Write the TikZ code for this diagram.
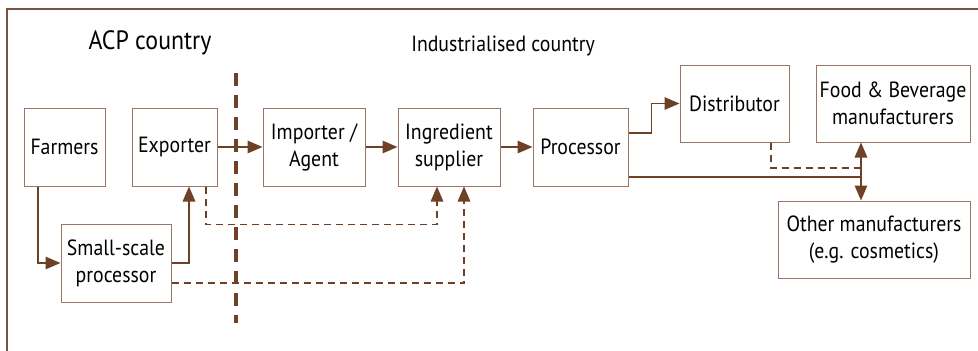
\documentclass[tikz,border=0pt]{standalone}
\usepackage{fontspec}
\setmainfont{PT Sans}[FakeStretch=0.9]
\usetikzlibrary{positioning}
\usetikzlibrary{arrows.meta}
\definecolor{chainBrown}{HTML}{6E4026}
\definecolor{boxBrown}{HTML}{9A7565}
\definecolor{frameBrown}{HTML}{7A5240}
\tikzset{
  font={\fontsize{22pt}{27pt}\selectfont}
}
\def\rowY{147}
\def\boxHeight{78}
\tikzstyle{stage}=[rectangle,draw=boxBrown,line width=1pt,minimum height=\boxHeight pt,inner sep=2pt,align=center,text=black]
\tikzstyle{flow}=[-{Triangle[length=15pt,width=12.5pt]},line width=1.5pt,draw=chainBrown]
\tikzstyle{backflow}=[flow,line width=1.2pt,dash pattern=on 7pt off 5pt]
\tikzstyle{plainflow}=[line width=1.5pt,draw=chainBrown]
\tikzstyle{border}=[line width=2pt,draw=frameBrown]
\tikzstyle{divider}=[line width=4pt,draw=chainBrown,dash pattern=on 13pt off 9pt]
\tikzstyle{region}=[font=\fontsize{26.5pt}{32pt}\selectfont]
\newcommand{\acpChain}{
    \node[stage,minimum width=81pt] (farmers) at (64.5,\rowY) {Farmers};
    \node[stage,minimum width=85pt] (exporter) at (174.5,\rowY) {Exporter};
    \node[stage,minimum width=110pt] (smallscale) at (116,263) {Small-scale\\processor};
    \node[region] (acp-title) at (150,43) {ACP country};
}
\newcommand{\importChain}{
    \node[stage,minimum width=102pt] (importer) at (314,\rowY) {Importer /\\Agent};
    \node[stage,minimum width=102pt] (ingredient) at (449,\rowY) {Ingredient\\supplier};
    \node[stage,minimum width=95pt] (processor) at (580.5,\rowY) {Processor};
    \node[stage,minimum width=109pt,minimum height=77pt] (distributor) at (734.5,103.5) {Distributor};
    \node[stage,minimum width=154pt,minimum height=77pt] (foodbev) at (893,103.5) {Food \& Beverage\\manufacturers};
    \node[stage,minimum width=192pt,minimum height=77pt] (othermanu) at (874,239.5) {Other manufacturers\\(e.g. cosmetics)};
    \node (ind-title) at (503,46) {Industrialised country};
}

\begin{document}
\begin{tikzpicture}[x=1pt,y=-1pt]
    \useasboundingbox (0,0) rectangle (978,351);
    \clip (0,0) rectangle (978,351);
    \draw[border] (7,360) |- (990,9);

    \acpChain

    \importChain

    \draw[divider] (236,73) -- (236,323);

    % Solid chain
    \draw[flow] ([xshift=-26.5pt]farmers.south) |- (smallscale.west);
    \draw[flow] (smallscale.east) -| ([xshift=14.5pt]exporter.south);
    \draw[flow] (exporter.east) -- (importer.west);
    \draw[flow] (importer.east) -- (ingredient.west);
    \draw[flow] (ingredient.east) -- (processor.west);
    \draw[flow] ([yshift=14pt]processor.east) -- ++(23,0) |- (distributor.west);
    \coordinate (split) at (861,177);
    \draw[plainflow] ([yshift=-30pt]processor.east) -- (split);
    \draw[flow] (split) -- (split |- foodbev.south);
    \draw[flow] (split) -- (split |- othermanu.north);

    % Dashed links
    \draw[plainflow,line width=1.2pt,dash pattern=on 7pt off 5pt] ([xshift=36.5pt]distributor.south) |- ([yshift=9pt]split);
    \draw[backflow] ([xshift=31.5pt]exporter.south) -- ++(0,38) -| ([xshift=-12pt]ingredient.south);
    \draw[backflow] ([yshift=-20pt]smallscale.east) -| ([xshift=15pt]ingredient.south);
\end{tikzpicture}
\end{document}
